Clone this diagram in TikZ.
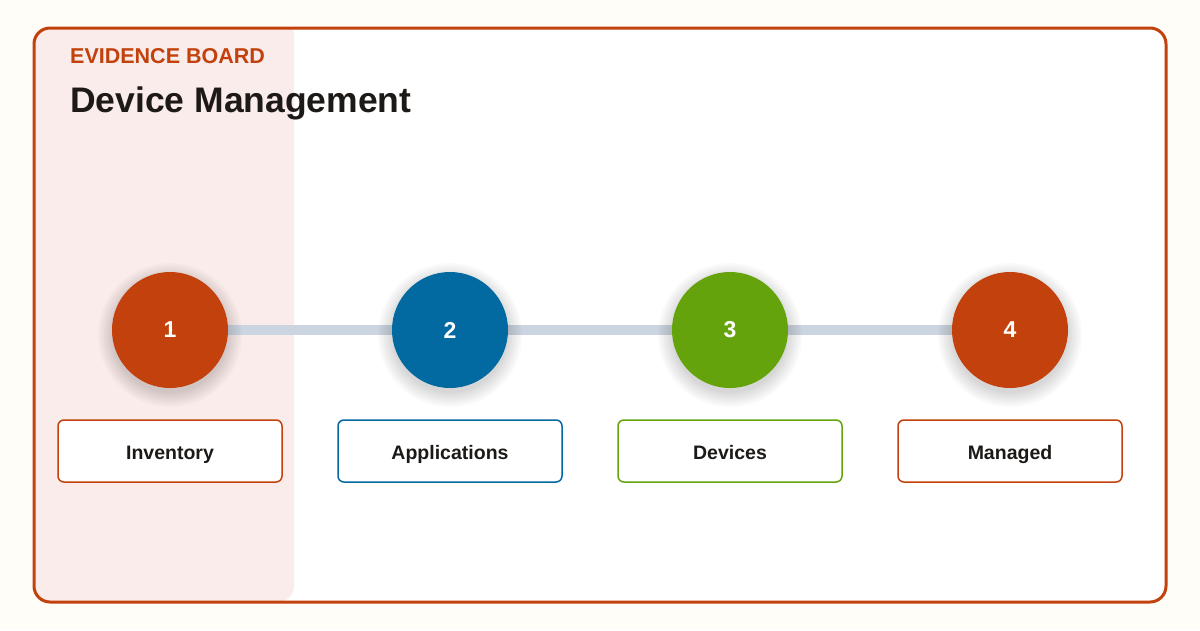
\documentclass[tikz,border=0pt]{standalone}
\usepackage{fontspec}
\setmainfont{Liberation Sans}
\definecolor{bg}{HTML}{FFFDF7}
\definecolor{orng}{HTML}{C2410C}
\definecolor{blu}{HTML}{0369A1}
\definecolor{grn}{HTML}{65A30D}
\definecolor{pnk}{HTML}{F9ECEA}
\definecolor{lin}{HTML}{CBD5E1}
\definecolor{ink}{HTML}{1C1917}
\begin{document}
\begin{tikzpicture}[x=1pt,y=-1pt,
  step/.style={circle,minimum size=116pt,inner sep=0pt,fill=#1,text=white,font=\fontsize{23}{26}\selectfont\bfseries},
  lbl/.style={draw=#1,line width=1.5pt,fill=white,rounded corners=6pt,minimum width=224pt,minimum height=62pt,inner sep=0pt,text height=18pt,text depth=2pt,font=\fontsize{19.5}{22}\selectfont\bfseries,text=ink},
  shd/.style={fill=black,fill opacity=0.018}]
\fill[bg] (0,0) rectangle (1200,630);
\useasboundingbox (0,0) rectangle (1200,630);
\fill[white,rounded corners=16pt] (34,28) rectangle (1166,602);
\begin{scope}
\clip[rounded corners=16pt] (34,28) rectangle (1166,602);
\fill[pnk,rounded corners=16pt] (20,20) rectangle (294,602);
\fill[pnk] (20,20) rectangle (200,610);
\end{scope}
\draw[orng,line width=3pt,rounded corners=16pt] (34,28) rectangle (1166,602);
\node[anchor=base west,inner sep=0pt,text=orng,font=\fontsize{21.5}{24}\selectfont\bfseries] (k) at (70,63) {EVIDENCE BOARD};
\node[anchor=base west,inner sep=0pt,text=ink,font=\fontsize{35.5}{40}\selectfont\bfseries] (t) at (70,112) {Device Management};
\coordinate (a0) at (170,330);
\coordinate (a3) at (1010,330);
\draw[lin,line width=10pt] (a0) -- (a3);
\foreach \x in {170,450,730,1010}{
  \foreach \r in {58,60,...,72}{\fill[shd] (\x,335) circle (\r);}
}
\node[step=orng] (c1) at (170,330) {1};
\node[step=blu] (c2) at (450,330) {2};
\node[step=grn] (c3) at (730,330) {3};
\node[step=orng] (c4) at (1010,330) {4};
\node[lbl=orng] (l1) at (170,451) {Inventory};
\node[lbl=blu] (l2) at (450,451) {Applications};
\node[lbl=grn] (l3) at (730,451) {Devices};
\node[lbl=orng] (l4) at (1010,451) {Managed};
\end{tikzpicture}
\end{document}
